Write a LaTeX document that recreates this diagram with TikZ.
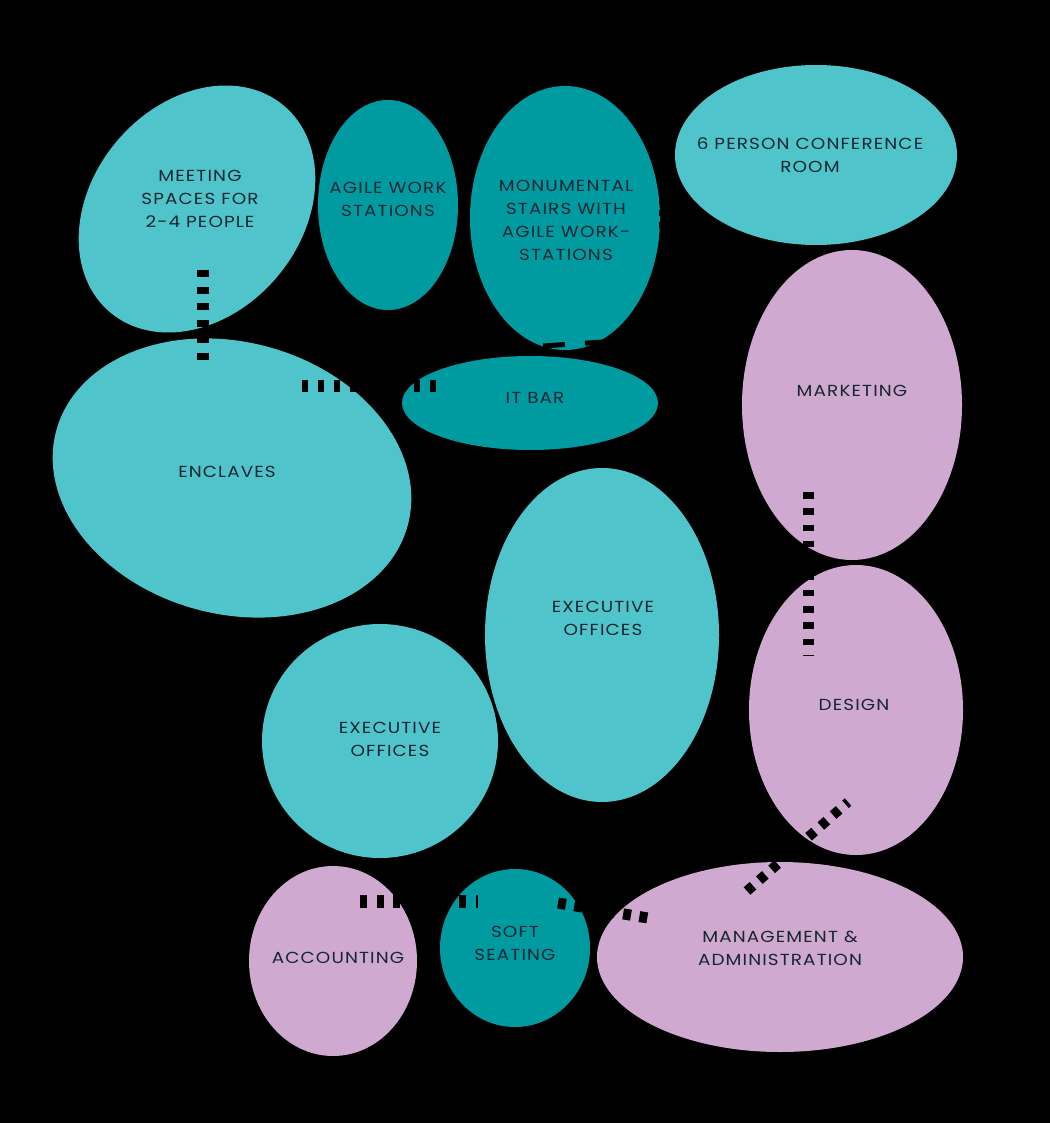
\documentclass[tikz,border=0pt]{standalone}
\usepackage{fontspec}
\newfontfamily\labfont[FakeStretch=1.15,LetterSpace=7]{Poppins}
\usetikzlibrary{shapes.geometric}
\definecolor{lteal}{RGB}{79,196,202}
\definecolor{dteal}{RGB}{0,155,160}
\definecolor{pinkb}{RGB}{207,169,207}
\definecolor{txt}{RGB}{22,38,50}
\begin{document}
\begin{tikzpicture}[x=1pt,y=-1pt,
  bubble/.style={ellipse, inner sep=0pt, draw=none},
  lab/.style={font=\labfont\fontsize{16}{23}\selectfont, text=txt, align=center, inner sep=0pt},
  link/.style={black, line cap=butt}]
\fill[black] (0,0) rectangle (1050,1123);
\useasboundingbox (0,0) rectangle (1050,1123);

% bubbles
\node[bubble, fill=lteal, minimum width=270pt, minimum height=210pt, rotate=50] (meet) at (197,209) {};
\node[bubble, fill=dteal, minimum width=140pt, minimum height=210pt] (agile) at (388,205) {};
\node[bubble, fill=dteal, minimum width=190pt, minimum height=264pt] (stair) at (565,218) {};
\node[bubble, fill=lteal, minimum width=282pt, minimum height=180pt] (conf) at (816,155) {};
\node[bubble, fill=dteal, minimum width=256pt, minimum height=94pt] (itbar) at (530,403) {};
\node[bubble, fill=lteal, minimum width=364pt, minimum height=272pt, rotate=-15] (encl) at (232,478) {};
\node[bubble, fill=pinkb, minimum width=220pt, minimum height=310pt] (mkt) at (852,405) {};
\node[bubble, fill=pinkb, minimum width=214pt, minimum height=290pt] (des) at (856,710) {};
\node[bubble, fill=lteal, minimum width=234pt, minimum height=334pt] (exr) at (602,635) {};
\node[bubble, fill=lteal, minimum width=236pt, minimum height=234pt] (exl) at (380,741) {};
\node[bubble, fill=pinkb, minimum width=168pt, minimum height=190pt] (acc) at (333,961) {};
\node[bubble, fill=dteal, minimum width=150pt, minimum height=158pt] (soft) at (515,948) {};
\node[bubble, fill=pinkb, minimum width=366pt, minimum height=190pt] (mgmt) at (780,957) {};

% labels
\node[lab] (tmeet) at (200,199) {MEETING\\SPACES FOR\\2-4 PEOPLE};
\node[lab] (tagile) at (388,199.5) {AGILE WORK\\STATIONS};
\node[lab] (tstair) at (566,220.5) {MONUMENTAL\\STAIRS WITH\\AGILE WORK-\\STATIONS};
\node[lab] (tconf) at (810,155.5) {6 PERSON CONFERENCE\\ROOM};
\node[lab] (tit) at (535,398) {IT BAR};
\node[lab] (tencl) at (227,472) {ENCLAVES};
\node[lab] (tmkt) at (852,391) {MARKETING};
\node[lab] (texr) at (603,618) {EXECUTIVE\\OFFICES};
\node[lab] (texl) at (390,739.5) {EXECUTIVE\\OFFICES};
\node[lab] (tdes) at (854,705) {DESIGN};
\node[lab] (tacc) at (338,958) {ACCOUNTING};
\node[lab] (tsoft) at (515,943.5) {SOFT\\SEATING};
\node[lab] (tmgmt) at (780,948.5) {MANAGEMENT \&\\ADMINISTRATION};

% connector ends
\coordinate (meet-encl-a) at (203,270);  \coordinate (meet-encl-b) at (203,360);
\coordinate (encl-it-a) at (302,386);    \coordinate (encl-it-b) at (437,386);
\coordinate (stair-conf-a) at (661,198); \coordinate (stair-conf-b) at (661,254);
\coordinate (stair-it-a) at (543,346);   \coordinate (stair-it-b) at (603,342);
\coordinate (mkt-des-a) at (808,492);    \coordinate (mkt-des-b) at (808,656);
\coordinate (des-mgmt-a) at (747,891);   \coordinate (des-mgmt-b) at (848,802);
\coordinate (acc-soft-a) at (360,901);   \coordinate (acc-soft-b) at (478,901);
\coordinate (soft-mgmt-a) at (558,903);  \coordinate (soft-mgmt-b) at (648,918);

% connectors
\draw[link, line width=12pt, dash pattern=on 7pt off 9.5pt] (meet-encl-a) -- (meet-encl-b);
\draw[link, line width=12pt, dash pattern=on 6pt off 10pt] (encl-it-a) -- (encl-it-b);
\draw[link, line width=5pt, dash pattern=on 6.5pt off 5.5pt] (stair-conf-a) -- (stair-conf-b);
\draw[link, line width=5pt, dash pattern=on 22pt off 20pt] (stair-it-a) -- (stair-it-b);
\draw[link, line width=11pt, dash pattern=on 6.5pt off 9.8pt] (mkt-des-a) -- (mkt-des-b);
\draw[link, line width=10pt, dash pattern=on 8pt off 8.4pt] (des-mgmt-a) -- (des-mgmt-b);
\draw[link, line width=13pt, dash pattern=on 7pt off 9.5pt] (acc-soft-a) -- (acc-soft-b);
\draw[link, line width=11pt, dash pattern=on 8pt off 8.5pt] (soft-mgmt-a) -- (soft-mgmt-b);
\end{tikzpicture}
\end{document}
